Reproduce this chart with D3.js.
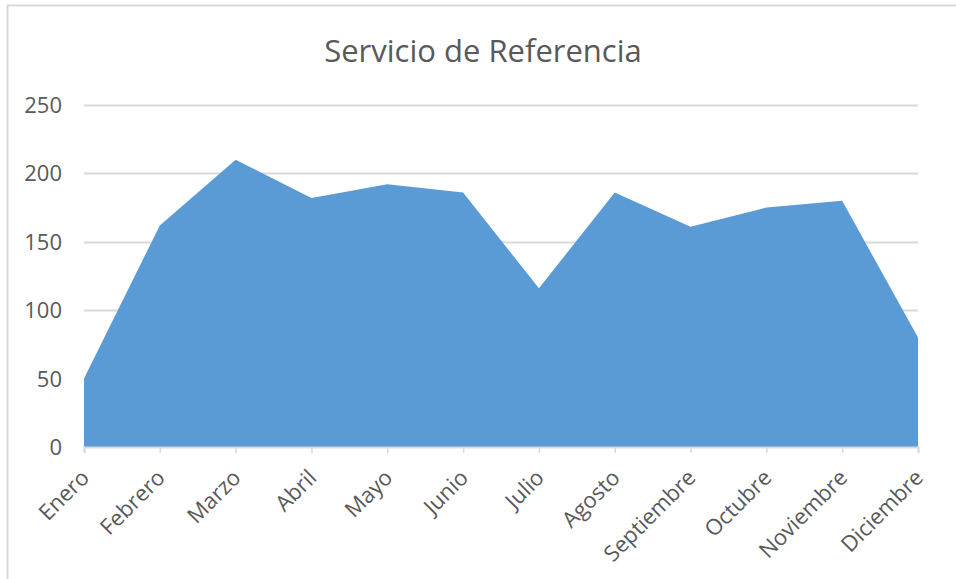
<!DOCTYPE html>
<html>
<head>
<meta charset="utf-8">
<script src="https://cdn.jsdelivr.net/npm/d3@7"></script>
<style>
  body { margin: 0; background: #fff; }
  text { font-family: "Open Sans", sans-serif; fill: #595959; }
</style>
</head>
<body>
<div id="chart"></div>
<script>
// datos del gráfico
const meses = ['Enero', 'Febrero', 'Marzo', 'Abril', 'Mayo', 'Junio', 'Julio',
               'Agosto', 'Septiembre', 'Octubre', 'Noviembre', 'Diciembre'];
const valores = [50, 162, 210, 182, 192, 186, 116, 186, 161, 175, 180, 80];
const ticksY = [0, 50, 100, 150, 200, 250];
const titulo = 'Servicio de Referencia';

const width = 956, height = 579;
const margin = { left: 84, right: 38, top: 105, bottom: 132 };

const svg = d3.select('#chart').append('svg')
    .attr('width', width)
    .attr('height', height);

// marco del gráfico
svg.append('rect')
    .attr('x', 7.5).attr('y', 5.5)
    .attr('width', width + 10).attr('height', height + 10)
    .attr('fill', 'none')
    .attr('stroke', '#d9d9d9')
    .attr('stroke-width', 2);

const x = d3.scalePoint()
    .domain(meses)
    .range([margin.left, width - margin.right]);

const y = d3.scaleLinear()
    .domain([0, 250])
    .range([height - margin.bottom, margin.top]);

// líneas de cuadrícula
svg.append('g')
    .selectAll('line')
    .data(ticksY.filter(d => d > 0))
    .join('line')
    .attr('x1', margin.left).attr('x2', width - margin.right)
    .attr('y1', d => Math.round(y(d)) + 0.5).attr('y2', d => Math.round(y(d)) + 0.5)
    .attr('stroke', '#d9d9d9')
    .attr('stroke-width', 2);

// área
const area = d3.area()
    .x(d => x(d.mes))
    .y0(y(0))
    .y1(d => y(d.valor));

svg.append('path')
    .datum(meses.map((m, i) => ({ mes: m, valor: valores[i] })))
    .attr('d', area)
    .attr('fill', '#5b9bd5');

// eje X
const ejeX = svg.append('g')
    .attr('transform', `translate(0,${y(0)})`)
    .call(d3.axisBottom(x).tickSize(6).tickPadding(4));
ejeX.select('.domain').attr('stroke', '#d9d9d9').attr('stroke-width', 2);
ejeX.selectAll('.tick line').attr('stroke', '#d9d9d9').attr('stroke-width', 1.5);
ejeX.selectAll('.tick text')
    .attr('font-size', 22)
    .attr('fill', '#595959')
    .attr('text-anchor', 'end')
    .attr('dx', 0).attr('dy', 0)
    .attr('transform', 'translate(-1,25) rotate(-45)');

// eje Y (sólo etiquetas)
svg.append('g')
    .selectAll('text')
    .data(ticksY)
    .join('text')
    .attr('x', 62)
    .attr('y', d => y(d))
    .attr('dy', '0.36em')
    .attr('text-anchor', 'end')
    .attr('font-size', 22)
    .text(d => d);

// título
svg.append('text')
    .attr('x', 483)
    .attr('y', 62)
    .attr('text-anchor', 'middle')
    .attr('font-size', 31)
    .text(titulo);
</script>
</body>
</html>
